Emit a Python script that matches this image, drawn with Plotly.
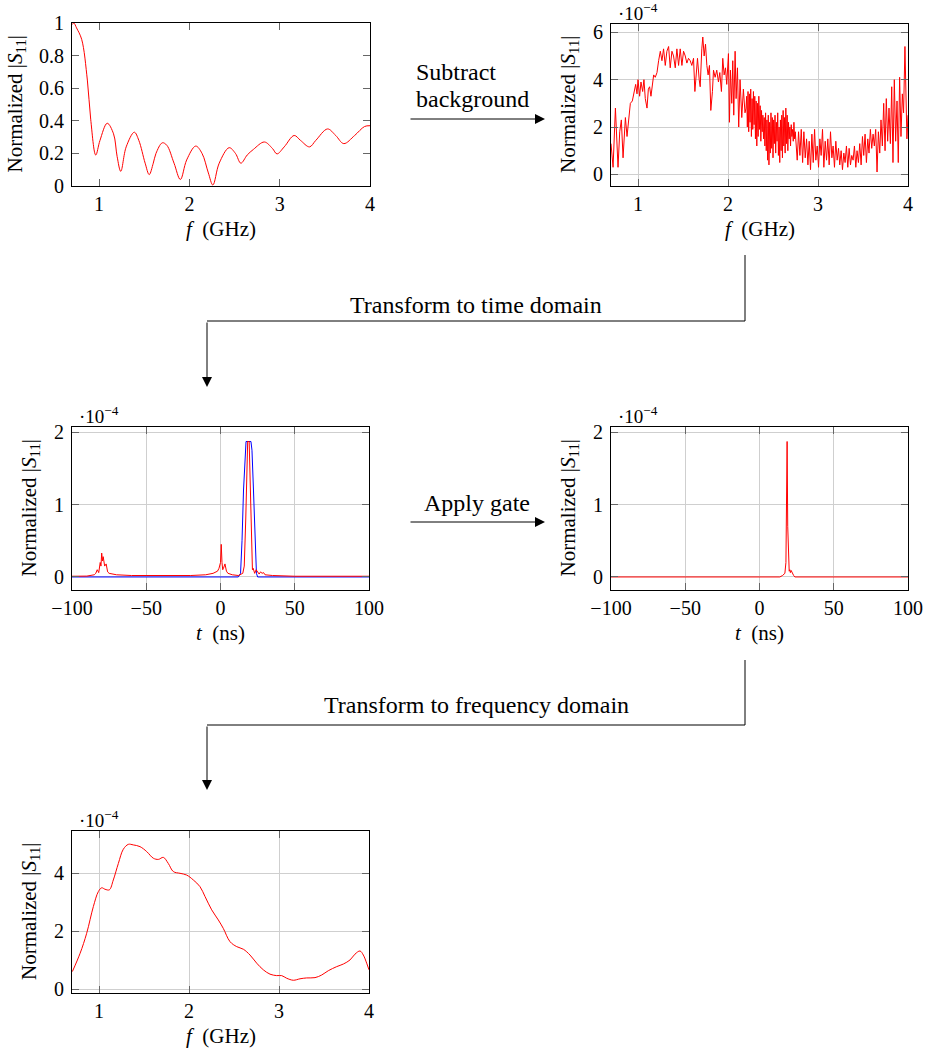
import plotly.graph_objects as go

W, H = 932, 1048
FONT = "Liberation Serif"

# ---------------- data ----------------
# Panel 1: raw normalized |S11| vs frequency (GHz)
f1 = [0.70, 0.72, 0.75, 0.807, 0.87, 0.907, 0.963, 1.01, 1.09, 1.16, 1.20, 1.24, 1.30, 1.39, 1.44,
      1.51, 1.555, 1.60, 1.63, 1.70, 1.75, 1.83, 1.90, 1.97, 2.07, 2.14, 2.21, 2.26, 2.33, 2.44,
      2.51, 2.57, 2.64, 2.71, 2.83, 2.92, 2.97, 3.05, 3.16, 3.23, 3.33, 3.40, 3.53, 3.62, 3.71,
      3.83, 3.94, 4.00]
s1 = [0.99, 1.0, 0.97, 0.90, 0.65, 0.41, 0.19, 0.28, 0.385, 0.32, 0.18, 0.09, 0.24, 0.33, 0.28,
      0.14, 0.07, 0.14, 0.20, 0.265, 0.25, 0.14, 0.04, 0.16, 0.245, 0.20, 0.08, 0.006, 0.14, 0.235,
      0.20, 0.14, 0.19, 0.225, 0.27, 0.23, 0.197, 0.24, 0.31, 0.28, 0.24, 0.28, 0.35, 0.31, 0.26,
      0.31, 0.365, 0.37]

# Panel 2: background subtracted (x1e-4) -- three frequency segments
f2_low = [0.700, 0.723, 0.749, 0.767, 0.778, 0.797, 0.815, 0.834, 0.860, 0.878, 0.900, 0.915, 0.937,
          0.959, 0.974, 0.989, 1.000, 1.018, 1.033, 1.052, 1.066, 1.081, 1.100, 1.115, 1.129, 1.144,
          1.159, 1.174, 1.192, 1.211, 1.229, 1.248, 1.266, 1.284, 1.303, 1.321, 1.340, 1.358, 1.377,
          1.395, 1.414, 1.432, 1.451, 1.469, 1.488, 1.506, 1.525, 1.543, 1.561, 1.580, 1.598, 1.617,
          1.632, 1.646, 1.661, 1.680, 1.691, 1.709, 1.720, 1.735, 1.750, 1.765, 1.779, 1.794, 1.809,
          1.827, 1.839, 1.857, 1.875, 1.894, 1.909, 1.927, 1.942, 1.957, 1.972, 1.986, 2.005, 2.016,
          2.027, 2.042, 2.053, 2.064, 2.079, 2.090, 2.105, 2.119, 2.134, 2.153, 2.171, 2.189]
s2_low = [1.3, 0.3, 2.8, 1.5, 0.3, 1.8, 2.3, 0.7, 2.4, 1.6, 2.3, 3.0, 3.1,
          3.5, 3.8, 3.4, 4.0, 3.3, 3.9, 3.5, 4.0, 3.2, 2.8, 3.6, 3.7, 3.3,
          3.8, 4.2, 4.1, 4.3, 4.8, 5.2, 4.8, 5.3, 4.6, 5.2, 5.4, 4.5, 5.2,
          5.0, 4.5, 5.3, 4.6, 5.3, 4.6, 5.2, 5.0, 4.7, 4.9, 4.8, 4.6, 4.9,
          3.5, 4.4, 4.9, 4.0, 3.7, 5.3, 5.8, 5.0, 5.5, 4.6, 4.2, 4.6, 2.7,
          3.5, 4.4, 4.1, 4.4, 3.9, 4.3, 3.5, 4.9, 4.2, 4.5, 3.8, 5.1, 2.2,
          4.4, 3.0, 4.8, 2.5, 5.2, 3.2, 4.5, 2.0, 4.0, 2.4, 3.6, 2.6]
f2_mid = [2.2000, 2.2075, 2.2150, 2.2225, 2.2300, 2.2375, 2.2450, 2.2525, 2.2600, 2.2675,
          2.2750, 2.2825, 2.2900, 2.2975, 2.3050, 2.3125, 2.3200, 2.3275, 2.3350, 2.3425,
          2.3500, 2.3575, 2.3650, 2.3725, 2.3800, 2.3875, 2.3950, 2.4025, 2.4100, 2.4175,
          2.4250, 2.4325, 2.4400, 2.4475, 2.4550, 2.4625, 2.4700, 2.4775, 2.4850, 2.4925,
          2.5000, 2.5075, 2.5150, 2.5225, 2.5300, 2.5375, 2.5450, 2.5525, 2.5600, 2.5675,
          2.5750, 2.5825, 2.5900, 2.5975, 2.6050, 2.6125, 2.6200, 2.6275, 2.6350, 2.6425,
          2.6500, 2.6575, 2.6650, 2.6725, 2.6800, 2.6875, 2.6950, 2.7025, 2.7100, 2.7175,
          2.7250, 2.7325, 2.7400, 2.7475, 2.7550]
s2_mid = [2.8, 3.3, 2.0, 3.5, 1.8, 3.4, 2.2, 3.6, 1.6, 3.2,
          1.9, 3.5, 2.1, 3.3, 1.5, 3.1, 1.2, 3.0, 1.6, 3.3,
          1.9, 2.9, 1.4, 2.7, 1.8, 2.5, 1.5, 2.4, 1.2, 2.6,
          1.0, 2.3, 0.6, 2.5, 0.4, 2.2, 0.9, 2.6, 1.1, 2.4,
          0.7, 2.3, 1.3, 2.5, 0.9, 2.2, 1.4, 2.6, 0.8, 2.0,
          0.5, 2.3, 1.0, 2.5, 0.7, 2.7, 1.2, 2.4, 0.9, 2.8,
          1.3, 2.5, 1.0, 2.2, 1.5, 2.0, 1.2, 2.1, 1.6, 1.9,
          1.4, 2.2, 1.5, 1.8, 1.4]
f2_high = [2.769, 2.784, 2.799,
           2.814, 2.829, 2.843, 2.858, 2.873, 2.888, 2.902, 2.917, 2.932, 2.947, 2.962, 2.976, 2.991,
           3.006, 3.021, 3.035, 3.050, 3.065, 3.080, 3.095, 3.109, 3.124, 3.139, 3.154, 3.168, 3.183,
           3.198, 3.213, 3.228, 3.242, 3.257, 3.272, 3.287, 3.301, 3.316, 3.331, 3.346, 3.361, 3.375,
           3.390, 3.405, 3.420, 3.434, 3.449, 3.464, 3.479, 3.494, 3.508, 3.523, 3.538, 3.553, 3.567,
           3.582, 3.597, 3.612, 3.626, 3.641, 3.656, 3.671, 3.686, 3.700, 3.715, 3.730, 3.745, 3.759,
           3.774, 3.789, 3.804, 3.819, 3.833, 3.848, 3.863, 3.878, 3.892, 3.907, 3.922, 3.937, 3.951,
           3.966, 3.981, 3.988, 4.000]
s2_high = [0.6, 1.8, 0.8,
           1.9, 0.5, 1.8, 0.7, 1.5, 0.4, 1.4, 0.2, 1.7, 0.5, 1.9, 0.6, 1.2,
           0.3, 1.5, 0.8, 1.9, 0.3, 1.4, 0.6, 1.5, 0.4, 1.8, 0.7, 1.2, 0.3,
           1.4, 0.6, 1.1, 0.4, 1.0, 0.2, 0.9, 0.5, 1.2, 0.3, 1.1, 0.4, 0.8,
           0.6, 1.2, 0.3, 1.0, 0.5, 1.3, 0.4, 1.6, 0.8, 1.7, 0.5, 1.5, 0.9,
           1.9, 1.1, 1.7, 1.2, 1.9, 0.1, 1.8, 0.9, 2.3, 1.2, 3.0, 1.0, 3.2,
           1.4, 2.8, 1.3, 3.7, 0.5, 4.0, 1.4, 3.1, 0.5, 4.1, 1.6, 3.4, 2.6,
           5.4, 3.0, 1.5, 2.5]
f2 = f2_low + f2_mid + f2_high
s2 = s2_low + s2_mid + s2_high

# Panel 3: time domain (x1e-4) and gate window
t3 = [-100, -90, -85, -84, -83, -82, -81, -80.5, -80, -79.5, -79, -78, -77, -76, -75, -70, -60,
      -40, -20, -10, -5, -2, -1, 0, 0.5, 1, 1.5, 2, 3, 4, 5, 8, 12, 15, 16, 17, 17.8, 18.3, 19.3,
      19.8, 20.3, 21, 21.5, 22, 23, 24, 25, 26, 27, 28, 29, 30, 35, 50, 100]
s3 = [0.01, 0.012, 0.03, 0.05, 0.10, 0.06, 0.20, 0.15, 0.33, 0.22, 0.28, 0.15, 0.18, 0.07, 0.05,
      0.03, 0.02, 0.015, 0.02, 0.03, 0.05, 0.08, 0.12, 0.20, 0.45, 0.20, 0.10, 0.12, 0.18, 0.08,
      0.05, 0.03, 0.02, 0.05, 0.15, 0.8, 1.6, 1.87, 1.87, 1.5, 0.8, 0.3, 0.1, 0.12, 0.05, 0.10,
      0.06, 0.04, 0.07, 0.05, 0.06, 0.03, 0.02, 0.01, 0.01]
tg = [-100, 12, 13.5, 14.5, 15.5, 16.5, 17.2, 20.5, 21.2, 22.2, 23.2, 24.2, 25, 100]
gate = [0, 0, 0.05, 0.5, 1.2, 1.75, 1.87, 1.87, 1.75, 1.2, 0.5, 0.05, 0, 0]

# Panel 4: gated time domain (x1e-4)
t4 = [-100, 13.7, 15.5, 17.1, 17.8, 18.2, 18.6, 19.0, 19.5, 20.0, 20.4, 20.8, 21.3, 22.0, 23.0, 23.8, 100]
s4 = [0, 0, 0.02, 0.05, 0.2, 0.8, 1.87, 0.7, 0.2, 0.08, 0.1, 0.06, 0.09, 0.05, 0.02, 0, 0]

# Panel 5: back to frequency domain (x1e-4)
f5 = [0.704, 0.79, 0.863, 0.937, 0.993, 1.03, 1.067, 1.115, 1.159, 1.215, 1.27, 1.326, 1.381,
      1.456, 1.53, 1.604, 1.66, 1.715, 1.77, 1.826, 1.90, 1.974, 2.048, 2.122, 2.178, 2.252,
      2.326, 2.381, 2.456, 2.53, 2.604, 2.678, 2.752, 2.826, 2.90, 2.974, 3.03, 3.085, 3.159,
      3.233, 3.307, 3.40, 3.474, 3.548, 3.641, 3.715, 3.789, 3.844, 3.90, 3.937, 3.974, 4.0]
s5 = [0.61, 1.24, 1.93, 2.85, 3.37, 3.5, 3.45, 3.43, 3.77, 4.34, 4.83, 5.0, 4.98,
      4.92, 4.75, 4.52, 4.48, 4.55, 4.34, 4.06, 4.0, 3.94, 3.77, 3.54, 3.2, 2.74,
      2.39, 2.1, 1.64, 1.47, 1.38, 1.18, 0.9, 0.67, 0.52, 0.47, 0.47, 0.38, 0.31,
      0.36, 0.39, 0.4, 0.49, 0.64, 0.78, 0.87, 1.01, 1.21, 1.32, 1.18, 0.9, 0.67]

# ---------------- layout helpers ----------------
def xd(l, r):
    return [l / W, r / W]

def yd(top, bot):
    return [1 - bot / H, 1 - top / H]

def px(x):
    return x / W

def py(y):
    return 1 - y / H

panels = [
    # (x-domain px, y-domain px, xrange, yrange, xticks, yticks, grid)
    ((72, 370), (23, 186), [0.7, 4], [0, 1], [1, 2, 3, 4], [0, 0.2, 0.4, 0.6, 0.8, 1], False),
    ((611, 908), (24, 186), [0.7, 4], [-0.49, 6.35], [1, 2, 3, 4], [0, 2, 4, 6], True),
    ((72, 369), (427, 590), [-100, 100], [-0.18, 2.07], [-100, -50, 0, 50, 100], [0, 1, 2], True),
    ((611, 908), (427, 590), [-100, 100], [-0.18, 2.07], [-100, -50, 0, 50, 100], [0, 1, 2], True),
    ((72, 369), (831, 993), [0.7, 4], [-0.13, 5.46], [1, 2, 3, 4], [0, 2, 4], True),
]

fig = go.Figure()
series = [
    [(f1, s1, "red")],
    [(f2, s2, "red")],
    [(tg, gate, "blue"), (t3, s3, "red")],
    [(t4, s4, "red")],
    [(f5, s5, "red")],
]
for i, ser in enumerate(series):
    sfx = "" if i == 0 else str(i + 1)
    for xs, ys, col in ser:
        shape = "spline" if i in (0, 4) else "linear"
        fig.add_trace(go.Scatter(x=xs, y=ys, mode="lines", xaxis="x" + sfx, yaxis="y" + sfx,
                                 line=dict(color=col, width=1, shape=shape), showlegend=False,
                                 hoverinfo="skip"))

layout = dict(width=W, height=H, margin=dict(l=0, r=0, t=0, b=0, pad=0, autoexpand=False),
              paper_bgcolor="white", plot_bgcolor="white",
              font=dict(family=FONT, size=21, color="black"), showlegend=False)

axcommon = dict(showline=True, linecolor="black", linewidth=1, mirror="allticks",
                ticks="inside", ticklen=7, tickwidth=1, tickcolor="#666666",
                zeroline=False, gridcolor="#cfcfcf", gridwidth=1, automargin=False,
                tickfont=dict(family=FONT, size=20, color="black"), fixedrange=True)

annotations = []
for i, (xdom, ydom, xr, yr, xt, yt, grid) in enumerate(panels):
    sfx = "" if i == 0 else str(i + 1)
    layout["xaxis" + sfx] = dict(axcommon, domain=xd(*xdom), range=xr, tickvals=xt,
                                 anchor="y" + sfx, showgrid=grid)
    layout["yaxis" + sfx] = dict(axcommon, domain=yd(*ydom), range=yr, tickvals=yt,
                                 anchor="x" + sfx, showgrid=grid, ticklabelstandoff=3)
    xc = (xdom[0] + xdom[1]) / 2
    yc = (ydom[0] + ydom[1]) / 2
    xlab = "<i>t</i>  (ns)" if i in (2, 3) else "<i>f</i>  (GHz)"
    annotations.append(dict(x=px(xc), y=py(ydom[1] + 43), xref="paper", yref="paper",
                            text=xlab, showarrow=False, font=dict(size=21),
                            xanchor="center", yanchor="middle"))
    ytx = xdom[0] - (57 if i == 0 else 42)
    annotations.append(dict(x=px(ytx), y=py(yc), xref="paper", yref="paper",
                            text="Normalized |<i>S</i><sub>11</sub>|", showarrow=False,
                            textangle=-90, font=dict(size=21),
                            xanchor="center", yanchor="middle"))
    if i > 0:
        annotations.append(dict(x=px(xdom[0] + 6), y=py(ydom[0] - 12), xref="paper", yref="paper",
                                text="·10<sup>−4</sup>", showarrow=False, font=dict(size=19),
                                xanchor="left", yanchor="middle", borderpad=0))

# flow text
def txt(x, y, s, anchor="center"):
    annotations.append(dict(x=px(x), y=py(y), xref="paper", yref="paper", text=s,
                            showarrow=False, font=dict(size=24), xanchor=anchor, yanchor="middle"))

txt(414, 72, "Subtract", "left")
txt(414, 99, "background", "left")
txt(477, 503, "Apply gate")
txt(476, 305, "Transform to time domain")
txt(476, 705, "Transform to frequency domain")

def arrow(x0, y0, x1, y1):
    annotations.append(dict(x=px(x1), y=py(y1), xref="paper", yref="paper",
                            ax=x0 - x1, ay=y0 - y1, axref="pixel", ayref="pixel",
                            text="", showarrow=True, arrowhead=2, arrowsize=2,
                            arrowwidth=1, arrowcolor="black", standoff=0))

arrow(409, 119, 545, 119)
arrow(409, 522, 545, 522)
arrow(207, 321, 207, 387)
arrow(207, 725, 207, 790)

shapes = []
def seg(x0, y0, x1, y1):
    shapes.append(dict(type="line", xref="paper", yref="paper", x0=px(x0), y0=py(y0),
                       x1=px(x1), y1=py(y1), line=dict(color="black", width=1)))

seg(745, 255, 745, 321)
seg(745, 321, 207, 321)
seg(745, 660, 745, 725)
seg(745, 725, 207, 725)

layout["annotations"] = annotations
layout["shapes"] = shapes
fig.update_layout(**layout)
fig.write_html("out.html", config={"displayModeBar": False},
               post_script="document.body.style.margin='0';document.body.style.padding='0';")
